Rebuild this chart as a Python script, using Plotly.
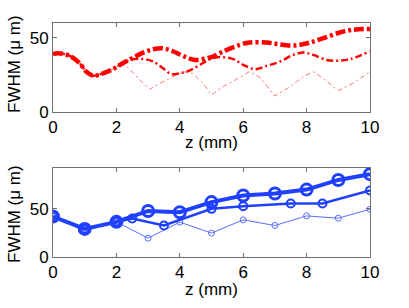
import plotly.graph_objects as go

# ---- top panel data (z in mm, FWHM in um) ----
z_common = [0, 0.16, 0.53, 0.84, 1.05, 1.26, 1.58, 1.9, 2.2]
w_common = [39, 39.6, 37.8, 32.9, 27.2, 24.5, 26.1, 29, 32.9]

z_top_thick = z_common + [2.5, 2.84, 3.16, 3.47, 3.8, 4.1, 4.47, 4.84, 5.05, 5.37, 5.9, 6.2,
                          6.74, 7.06, 7.48, 7.79, 8.1, 8.53, 9.05, 9.47, 10]
w_top_thick = w_common + [36.3, 40, 42.3, 42.9, 40.8, 37.8, 35.1, 36.2, 37.4, 40.8, 45.3, 46.8,
                          46.8, 45.9, 44.8, 45.3, 46.8, 49.8, 53.6, 55.4, 56]

z_top_mid = z_common + [2.5, 2.84, 3.16, 3.47, 3.74, 4.0, 4.3, 4.63, 4.95, 5.27, 5.69, 6.0,
                        6.37, 6.74, 7.16, 7.58, 7.9, 8.21, 8.63, 8.95, 9.37, 10]
w_top_mid = w_common + [35.5, 35.8, 34, 29.5, 25.5, 26.1, 27.9, 31.7, 35.6, 37, 35.6, 31.8,
                        28.8, 31.1, 34, 38.5, 40.1, 38.5, 35.1, 34.5, 35.6, 41]

z_top_thin = z_common + [2.42, 2.74, 3.05, 3.37, 3.68, 4.1, 4.4, 4.74, 5.0, 5.37, 5.79, 6.2,
                         6.53, 7.0, 7.48, 7.9, 8.21, 8.53, 9.0, 9.47, 10]
w_top_thin = w_common + [28.8, 21.6, 15.3, 19.3, 22.7, 27.2, 26.1, 19.3, 11.5, 17.1, 22.1, 27.2,
                         23.3, 10.8, 17.1, 23.9, 27.2, 22.7, 14.4, 19.4, 27.2]

# ---- bottom panel data ----
z_bot_thick = [0, 1, 2, 3, 4, 5, 6, 7, 8, 9, 10]
w_bot_thick = [42, 29.2, 36.5, 47.8, 46.5, 57, 63.8, 66, 70, 80, 86]

z_bot_mid = [0, 1, 2, 2.5, 3.5, 5, 6, 7.5, 8.5, 10]
w_bot_mid = [42, 29.2, 36.5, 40, 32.7, 50, 52.8, 55.6, 55.6, 69]

z_bot_thin = [0, 1, 2, 3, 4, 5, 6, 7, 8, 9, 10]
w_bot_thin = [42, 29.2, 36.5, 19.6, 36.2, 24.8, 38.6, 32.7, 42.7, 40.3, 49.6]

x_ticks = [0, 2, 4, 6, 8, 10]
y_ticks = [0, 50]

RED = "#ff0000"
BLUE = "#2040ff"
AX = "#707070"
FONT = "Liberation Sans, Arial, sans-serif"

fig = go.Figure()

fig.add_trace(go.Scatter(x=z_top_thin, y=w_top_thin, mode="lines", xaxis="x", yaxis="y",
                         line=dict(color=RED, width=1, dash="5px,3px,2px,3px"), opacity=0.55))
fig.add_trace(go.Scatter(x=z_top_mid, y=w_top_mid, mode="lines", xaxis="x", yaxis="y",
                         line=dict(color=RED, width=2.5, dash="7px,3px,2px,3px", shape="spline")))
fig.add_trace(go.Scatter(x=z_top_thick, y=w_top_thick, mode="lines", xaxis="x", yaxis="y",
                         line=dict(color=RED, width=4.5, dash="10px,3px,3px,3px", shape="spline")))

fig.add_trace(go.Scatter(x=z_bot_thin, y=w_bot_thin, mode="lines+markers", xaxis="x2", yaxis="y2",
                         line=dict(color=BLUE, width=1), opacity=0.75,
                         marker=dict(symbol="circle-open", size=6, color=BLUE, line=dict(width=1))))
fig.add_trace(go.Scatter(x=z_bot_mid, y=w_bot_mid, mode="lines+markers", xaxis="x2", yaxis="y2",
                         line=dict(color=BLUE, width=2.5),
                         marker=dict(symbol="circle-open", size=8, color=BLUE, line=dict(width=2))))
fig.add_trace(go.Scatter(x=z_bot_thick, y=w_bot_thick, mode="lines+markers", xaxis="x2", yaxis="y2",
                         line=dict(color=BLUE, width=4),
                         marker=dict(symbol="circle-open", size=11, color=BLUE, line=dict(width=3))))

axis_common = dict(showline=True, linecolor=AX, linewidth=1, mirror="allticks",
                   ticks="inside", ticklen=4, tickcolor=AX, showgrid=False, zeroline=False,
                   automargin=False,
                   tickfont=dict(family=FONT, size=17, color="black"))

fig.update_layout(
    width=409, height=308,
    margin=dict(l=53, r=39, t=23, b=51, autoexpand=False),
    paper_bgcolor="white", plot_bgcolor="white",
    showlegend=False,
    hovermode=False,
    font=dict(family=FONT, size=17, color="black"),
    xaxis=dict(domain=[0, 1], range=[0, 10], tickvals=x_ticks, anchor="y", **axis_common),
    yaxis=dict(domain=[0.6197, 1.0], range=[0, 60], tickvals=y_ticks, anchor="x", **axis_common),
    xaxis2=dict(domain=[0, 1], range=[0, 10], tickvals=x_ticks, anchor="y2", **axis_common),
    yaxis2=dict(domain=[0, 0.3803], range=[0, 92.4], tickvals=y_ticks, anchor="x2", **axis_common),
)

ann = dict(xref="paper", yref="paper", showarrow=False, font=dict(family=FONT, size=17, color="black"))
fig.add_annotation(text="z (mm)", x=0.5, y=(257 - 142) / 234, xanchor="center", yanchor="middle", **ann)
fig.add_annotation(text="z (mm)", x=0.5, y=(257 - 289) / 234, xanchor="center", yanchor="middle", **ann)
fig.add_annotation(text="FWHM (\u03bc m)", x=(14 - 53) / 317, y=(257 - 64) / 234, textangle=-90,
                   xanchor="center", yanchor="middle", borderpad=0, **ann)
fig.add_annotation(text="FWHM (\u03bc m)", x=(14 - 53) / 317, y=(257 - 214) / 234, textangle=-90,
                   xanchor="center", yanchor="middle", borderpad=0, **ann)

fig.write_html("out.html", config={"displayModeBar": False, "staticPlot": True},
               post_script="document.body.style.margin='0';document.body.style.padding='0';")
